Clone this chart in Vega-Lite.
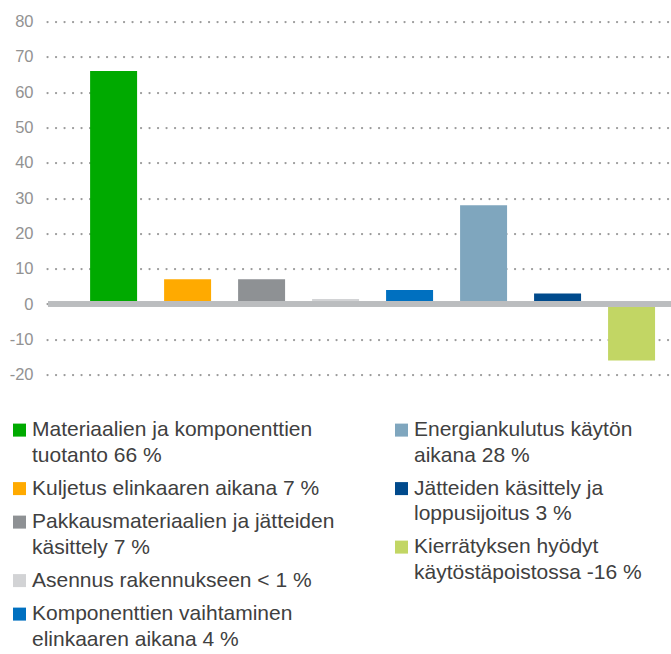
{
  "$schema": "https://vega.github.io/schema/vega-lite/v6.json",
  "width": 624,
  "height": 353,
  "autosize": "none",
  "padding": {"left": 47, "top": 21.6, "right": 0, "bottom": 279.4},
  "background": "white",
  "config": {
    "view": {"stroke": null},
    "font": "Liberation Sans",
    "style": {"guide-label": {"lineHeight": 25.5}}
  },
  "data": {
    "values": [
      {"k": "Materiaalien ja komponenttien\ntuotanto 66 %", "v": 66},
      {"k": "Kuljetus elinkaaren aikana 7 %", "v": 7},
      {"k": "Pakkausmateriaalien ja jätteiden\nkäsittely 7 %", "v": 7},
      {"k": "Asennus rakennukseen < 1 %", "v": 1.4},
      {"k": "Komponenttien vaihtaminen\nelinkaaren aikana 4 %", "v": 4},
      {"k": "Energiankulutus käytön\naikana 28 %", "v": 28},
      {"k": "Jätteiden käsittely ja\nloppusijoitus 3 %", "v": 3},
      {"k": "Kierrätyksen hyödyt\nkäytöstäpoistossa -16 %", "v": -16}
    ]
  },
  "encoding": {
    "x": {
      "field": "k", "type": "nominal", "axis": null,
      "scale": {
        "domain": [
          "Materiaalien ja komponenttien\ntuotanto 66 %",
          "Kuljetus elinkaaren aikana 7 %",
          "Pakkausmateriaalien ja jätteiden\nkäsittely 7 %",
          "Asennus rakennukseen < 1 %",
          "Komponenttien vaihtaminen\nelinkaaren aikana 4 %",
          "Energiankulutus käytön\naikana 28 %",
          "Jätteiden käsittely ja\nloppusijoitus 3 %",
          "Kierrätyksen hyödyt\nkäytöstäpoistossa -16 %"
        ],
        "paddingInner": 0.365, "paddingOuter": 0.399, "align": 0.73
      }
    },
    "y": {
      "field": "v", "type": "quantitative",
      "scale": {"domain": [-20, 80], "nice": false, "zero": false},
      "axis": {
        "title": null, "values": [-20, -10, 0, 10, 20, 30, 40, 50, 60, 70, 80],
        "labelExpr": "'' + datum.value",
        "domain": false, "ticks": false, "labelPadding": 14,
        "labelFontSize": 16.5, "labelColor": "#929292",
        "grid": true, "gridDash": [0.1, 8.4], "gridCap": "round",
        "gridWidth": 2.2, "gridColor": "#9A9A9A"
      }
    }
  },
  "layer": [
    {
      "transform": [{"filter": {"field": "k", "oneOf": [
        "Materiaalien ja komponenttien\ntuotanto 66 %",
        "Kuljetus elinkaaren aikana 7 %",
        "Pakkausmateriaalien ja jätteiden\nkäsittely 7 %",
        "Asennus rakennukseen < 1 %",
        "Komponenttien vaihtaminen\nelinkaaren aikana 4 %"
      ]}}],
      "mark": {"type": "bar"},
      "encoding": {
        "color": {
          "field": "k", "type": "nominal",
          "scale": {
            "domain": [
              "Materiaalien ja komponenttien\ntuotanto 66 %",
              "Kuljetus elinkaaren aikana 7 %",
              "Pakkausmateriaalien ja jätteiden\nkäsittely 7 %",
              "Asennus rakennukseen < 1 %",
              "Komponenttien vaihtaminen\nelinkaaren aikana 4 %"
            ],
            "range": ["#00AA00", "#FFAA00", "#8E9194", "#D2D3D5", "#0070C0"]
          },
          "legend": {
            "title": null, "orient": "none", "legendX": -38, "legendY": 398,
            "padding": 0, "symbolType": "square", "symbolSize": 169,
            "symbolStrokeWidth": 0, "labelFontSize": 21, "labelColor": "#404040",
            "labelLimit": 1000, "rowPadding": 11.5, "labelOffset": 2,
            "labelExpr": "split(replace(datum.label, '\\n', '\\n\u00a0'), '\\n')"
          }
        }
      }
    },
    {
      "transform": [{"filter": {"field": "k", "oneOf": [
        "Energiankulutus käytön\naikana 28 %",
        "Jätteiden käsittely ja\nloppusijoitus 3 %",
        "Kierrätyksen hyödyt\nkäytöstäpoistossa -16 %"
      ]}}],
      "mark": {"type": "bar"},
      "encoding": {
        "color": {
          "field": "k", "type": "nominal",
          "scale": {
            "domain": [
              "Energiankulutus käytön\naikana 28 %",
              "Jätteiden käsittely ja\nloppusijoitus 3 %",
              "Kierrätyksen hyödyt\nkäytöstäpoistossa -16 %"
            ],
            "range": ["#7FA6BE", "#004A8C", "#C2D664"]
          },
          "legend": {
            "title": null, "orient": "none", "legendX": 344, "legendY": 398,
            "padding": 0, "symbolType": "square", "symbolSize": 169,
            "symbolStrokeWidth": 0, "labelFontSize": 21, "labelColor": "#404040",
            "labelLimit": 1000, "rowPadding": 11.5, "labelOffset": 2,
            "labelExpr": "split(replace(datum.label, '\\n', '\\n\u00a0'), '\\n')"
          }
        }
      }
    },
    {
      "mark": {"type": "rule", "color": "#BBBDBF", "strokeWidth": 5},
      "encoding": {"y": {"datum": 0}, "x": {"value": 1}, "x2": {"value": 624}}
    }
  ],
  "resolve": {"scale": {"color": "independent"}}
}
